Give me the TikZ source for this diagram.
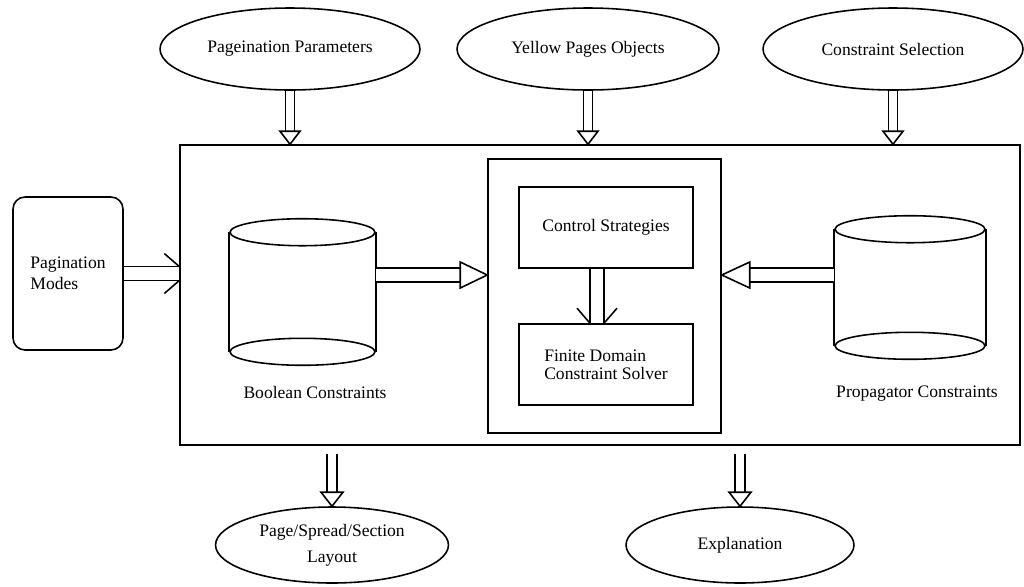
\documentclass[tikz,border=0pt]{standalone}
\usepackage{fontspec}
\setmainfont{Liberation Serif}
\usetikzlibrary{shapes.geometric,calc}

% double shaft with a hollow triangle head
% #1 shaft gap, #2 head length, #3 head half width, #4 from, #5 tip
\newcommand{\hollowarrow}[5]{%
  \draw[double,double distance=#1] (#4) -- ($(#5)!#2!(#4)$);
  \draw[fill=white] ($(#5)!#2!(#4)!#3!90:(#4)$) -- (#5)
    -- ($(#5)!#2!(#4)!#3!-90:(#4)$) -- cycle;}
% double shaft ending in two open barbs
\newcommand{\barbarrow}[2]{%
  \draw[double,double distance=0.25cm] (#1) -- (#2);
  \draw ($(#2)!0.14cm!90:(#1)$) -- ($(#2)!0.3cm!(#1)!0.4cm!90:(#1)$)
        ($(#2)!0.14cm!-90:(#1)$) -- ($(#2)!0.3cm!(#1)!0.4cm!-90:(#1)$);}

\begin{document}
\begin{tikzpicture}[x=0.02cm,y=-0.02cm,line width=0.9pt,
    font=\fontsize{10}{12}\selectfont,
    oval/.style={ellipse,draw,inner sep=0pt,
                 minimum width=5.2cm,minimum height=1.64cm},
    box/.style={rectangle,draw,inner sep=0pt},
    store/.style={rectangle,inner sep=0pt,
                  minimum width=2.9cm,minimum height=2.36cm},
  ]
  \useasboundingbox (0,0) rectangle (1024,586);

  % inputs
  \node[oval] (pagpar) at (290,49) {Pageination Parameters};
  \node[oval,minimum width=5.24cm] (ypobj) at (588,49) {Yellow Pages Objects};
  \node[oval] (consel) at (893,49) {Constraint Selection};
  \node[box,rounded corners=0.24cm,minimum width=2.2cm,minimum height=3.06cm,
        align=left] (pagmod) at (68,273.5) {Pagination\\Modes};

  % engine
  \node[box,minimum width=16.8cm,minimum height=6cm] (engine) at (600,295) {};
  \node[box,minimum width=4.66cm,minimum height=5.48cm] (solver) at (604.5,296) {};
  \node[box,minimum width=3.48cm,minimum height=1.62cm] (ctrl) at (606,227.5)
    {Control Strategies};
  \node[box,minimum width=3.48cm,minimum height=1.62cm,align=left,
        font=\fontsize{10}{10.5}\selectfont] (fdsolver) at (606,364.5)
    {Finite Domain\\Constraint Solver};

  % constraint stores
  \node[store] (boolc) at (302.5,292) {};
  \node[store,minimum width=3cm,minimum height=2.3cm] (propc) at (910,287.5) {};
  \foreach \s/\r in {boolc/1.45cm,propc/1.5cm}{
    \draw (\s.north west) -- (\s.south west) (\s.north east) -- (\s.south east);
    \draw (\s.north) ellipse [x radius=\r,y radius=0.27cm];
    \draw (\s.south) ellipse [x radius=\r,y radius=0.27cm];
  }
  \node (boollbl) at (315,392) {Boolean Constraints};
  \node (proplbl) at (917,394) {Propagator Constraints};

  % outputs
  \node[oval,minimum width=4.66cm,minimum height=1.52cm,align=center]
    (layout) at (332,545) {Page/Spread/Section\\[2.7pt]Layout};
  \node[oval,minimum width=4.56cm,minimum height=1.52cm] (expl) at (740,545)
    {Explanation};

  % flows into the engine
  \foreach \n in {pagpar,ypobj,consel}
    \hollowarrow{0.15cm}{0.26cm}{0.2cm}{\n.south}{\n.south |- engine.north};
  \barbarrow{pagmod.east}{pagmod.east -| engine.west}

  \coordinate (boolout) at ([yshift=0.34cm]boolc.east);
  \coordinate (propout) at ([yshift=0.25cm]propc.west);
  \hollowarrow{0.25cm}{0.54cm}{0.26cm}{boolout}{boolout -| solver.west}
  \hollowarrow{0.25cm}{0.56cm}{0.26cm}{propout}{propout -| solver.east}

  \coordinate (ctrlout) at ([xshift=-0.18cm]ctrl.south);
  \barbarrow{ctrlout}{ctrlout |- fdsolver.north}

  % flows out of the engine
  \foreach \n in {layout,expl}{
    \coordinate (\n-in) at ($(engine.south -| \n.north)+(0,8)$);
    \hollowarrow{0.17cm}{0.28cm}{0.22cm}{\n-in}{\n.north}
  }
\end{tikzpicture}
\end{document}
